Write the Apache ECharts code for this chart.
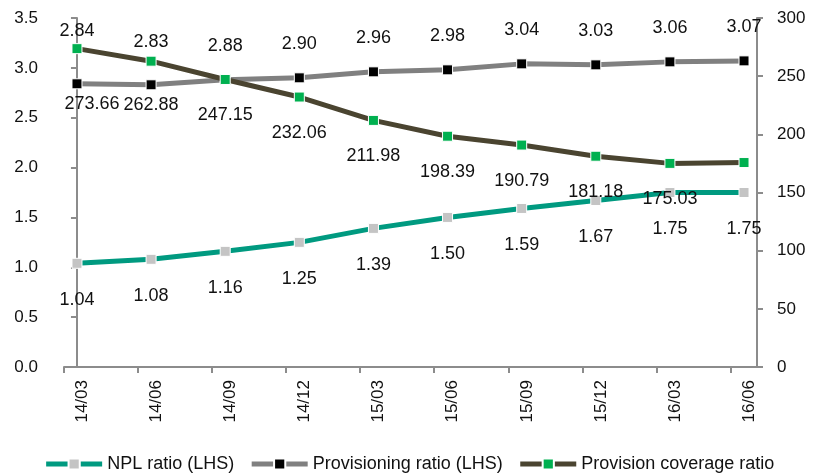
<!DOCTYPE html>
<html>
<head>
<meta charset="utf-8">
<script src="https://cdn.jsdelivr.net/npm/echarts@6/dist/echarts.min.js"></script>
<style>
  html, body { margin: 0; padding: 0; background: #fff; }
  #chart { width: 818px; height: 475px; }
</style>
</head>
<body>
<div id="chart"></div>
<script>
// 季度（横轴）
const quarters = ["14/03", "14/06", "14/09", "14/12", "15/03", "15/06", "15/09", "15/12", "16/03", "16/06"];
// 不良率（左轴）
const nplRatio = [1.04, 1.08, 1.16, 1.25, 1.39, 1.50, 1.59, 1.67, 1.75, 1.75];
// 拨贷比（左轴）
const provisioningRatio = [2.84, 2.83, 2.88, 2.90, 2.96, 2.98, 3.04, 3.03, 3.06, 3.07];
// 拨备覆盖率（右轴）
const coverageRatio = [273.66, 262.88, 247.15, 232.06, 211.98, 198.39, 190.79, 181.18, 175.03, 175.75];
const leftTicks = [0, 3.5, 0.5];
const rightTicks = [0, 300, 50];

const FONT = "Liberation Sans, Arial, sans-serif";
const PAD = 0.175; // 两端留白（类目单位）
const AXIS_GRAY = "#8c8c8c";

const chart = echarts.init(document.getElementById("chart"));

// 数据点 -> [x, y]，可对个别标签做位置微调（避免重叠）
function pts(values, tweaks = {}) {
  return values.map((v, i) => {
    const t = tweaks[i];
    return t ? { value: [i, v], label: t } : [i, v];
  });
}

const labelBase = {
  show: true,
  color: "#111",
  fontSize: 18,
  fontFamily: FONT,
  formatter: (p) => p.value[1].toFixed(2),
};

const axisCommon = {
  splitLine: { show: false },
  axisLine: { show: true, lineStyle: { color: AXIS_GRAY, width: 2 } },
  axisTick: { show: true, length: 6, lineStyle: { color: AXIS_GRAY, width: 2 } },
};

const option = {
  animation: false,
  textStyle: { fontFamily: FONT },
  grid: { left: 64, right: 61, top: 18, bottom: 108 },
  legend: {
    top: 450,
    left: "center",
    itemWidth: 56,
    itemHeight: 14,
    itemGap: 15,
    lineStyle: { width: 5 },
    textStyle: { color: "#111", fontSize: 18, fontFamily: FONT },
    data: ["NPL ratio (LHS)", "Provisioning ratio (LHS)", "Provision coverage ratio"],
  },
  xAxis: {
    type: "value",
    min: -PAD,
    max: quarters.length - 1 + PAD,
    interval: 1,
    ...axisCommon,
    axisLabel: {
      rotate: 90,
      color: "#111",
      fontSize: 17,
      fontFamily: FONT,
      margin: 13,
      verticalAlign: "top",
      padding: [10, 0, 0, 0],
      showMaxLabel: false,
      formatter: (v) => {
        const k = v + PAD;
        const r = Math.round(k);
        if (Math.abs(k - r) > 0.01 || r < 0 || r >= quarters.length) return "";
        return quarters[r];
      },
    },
  },
  yAxis: [
    {
      type: "value",
      min: leftTicks[0],
      max: leftTicks[1],
      interval: leftTicks[2],
      ...axisCommon,
      axisLabel: {
        color: "#111",
        fontSize: 17,
        fontFamily: FONT,
        margin: 26,
        formatter: (v) => v.toFixed(1),
      },
    },
    {
      type: "value",
      min: rightTicks[0],
      max: rightTicks[1],
      interval: rightTicks[2],
      ...axisCommon,
      axisLabel: {
        color: "#111",
        fontSize: 17,
        fontFamily: FONT,
        margin: 20,
      },
    },
  ],
  series: [
    {
      name: "NPL ratio (LHS)",
      type: "line",
      yAxisIndex: 0,
      data: pts(nplRatio),
      symbol: "rect",
      symbolSize: 10,
      lineStyle: { color: "#009a80", width: 5 },
      itemStyle: { color: "#c4c4c4", borderColor: "#fff", borderWidth: 1 },
      label: { ...labelBase, position: "bottom", distance: 22 },
      z: 2,
    },
    {
      name: "Provisioning ratio (LHS)",
      type: "line",
      yAxisIndex: 0,
      data: pts(provisioningRatio, { 0: { distance: 38 }, 1: { distance: 28 } }),
      symbol: "rect",
      symbolSize: 10,
      lineStyle: { color: "#808080", width: 5 },
      itemStyle: { color: "#000", borderColor: "#fff", borderWidth: 1 },
      label: { ...labelBase, position: "top", distance: 19 },
      z: 3,
    },
    {
      name: "Provision coverage ratio",
      type: "line",
      yAxisIndex: 1,
      data: pts(coverageRatio, {
        0: { distance: 41, offset: [15, 0] },
        1: { distance: 29 },
        9: { show: false },
      }),
      symbol: "rect",
      symbolSize: 10,
      lineStyle: { color: "#4a4430", width: 5 },
      itemStyle: { color: "#00b050", borderColor: "#fff", borderWidth: 1 },
      label: { ...labelBase, position: "bottom", distance: 21 },
      z: 4,
    },
  ],
};

chart.setOption(option);
window.addEventListener("resize", () => chart.resize());
</script>
</body>
</html>
